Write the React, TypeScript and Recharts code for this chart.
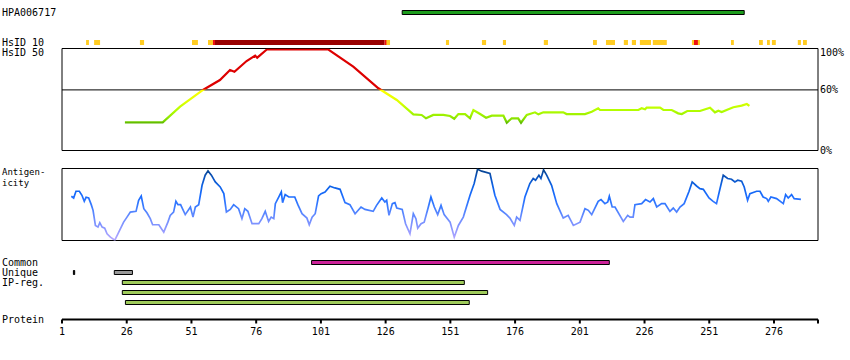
import React from 'react';
import { ComposedChart, Line, XAxis, YAxis, ReferenceArea, ReferenceLine } from 'recharts';

const W = 850;
const H = 360;
const FONT = '"DejaVu Sans Mono", monospace';
const X_DOMAIN: [number, number] = [1, 293];
const PLOT_LEFT = 62;
const PLOT_RIGHT = 32;

// ---- data ----
const AXIS_TICKS = [1, 26, 51, 76, 101, 126, 151, 176, 201, 226, 251, 276, 293];
const PROTEIN_END = 293;
const PCT_TICKS = [0, 60, 100];

const antibodyName = 'HPA006717';
const antibodyFragment: [number, number] = [132.4, 264.5];

const hsid10Yellow: [number, number][] = [
  [10.3, 11.4], [13.4, 15.7], [31.1, 32.7], [51.2, 53.5], [57.4, 59.3], [126.1, 127.7],
  [149.3, 150.5], [163.2, 164.8], [171.3, 172.5], [187.1, 188.7], [206.1, 207.6],
  [211.1, 214.6], [218.0, 219.6], [221.1, 222.7], [224.2, 228.5], [229.2, 234.6],
  [244.3, 247.4], [259.4, 260.5], [270.2, 271.7], [273.3, 274.4], [275.2, 276.7],
  [285.2, 286.4], [287.2, 288.7],
];
const hsid10Red: [number, number][] = [[59.3, 60.1], [125.6, 126.3], [245.1, 246.6]];
const hsid10DarkRed: [number, number][] = [[60.1, 125.6]];

const hsid50Pos = [
  25.3, 39.9, 46.6, 55.6, 62.0, 65.9, 67.6, 72.3, 75.6, 76.4, 80.1, 103.9, 113.5, 123.2,
  130.3, 136.7, 139.9, 141.6, 144.4, 148.3, 150.9, 152.5, 154.1, 156.7, 158.6, 159.9,
  162.5, 164.8, 167.0, 171.5, 172.8, 174.7, 177.2, 178.3, 180.5, 183.7, 185.0, 186.9,
  194.6, 195.9, 203.0, 205.6, 208.1, 208.8, 223.6, 224.9, 226.2, 226.8, 232.0, 233.3,
  236.5, 239.0, 240.4, 242.5, 247.4, 251.3, 253.2, 254.5, 255.8, 258.4, 260.3, 263.5,
  265.5, 266.5,
];
const hsid50Val = [
  27.9, 27.9, 43.4, 60.2, 69.8, 79.7, 78.0, 88.6, 93.9, 91.9, 100, 100, 83.0, 61.6,
  50.0, 35.8, 35.2, 31.9, 35.2, 35.2, 34.2, 31.5, 36.1, 36.1, 31.9, 40.1,
  36.1, 32.5, 34.5, 34.5, 27.5, 31.9, 31.9, 27.5, 35.2, 37.8, 35.8, 37.8,
  37.8, 36.1, 36.1, 38.4, 41.8, 40.1, 40.1, 41.8, 40.8, 42.4, 42.4, 40.1,
  40.1, 36.8, 36.1, 39.1, 39.1, 42.4, 37.8, 39.4, 38.1, 40.8, 42.8, 44.4,
  46.0, 44.1,
];

const antigenPos = [
  4.6, 5.5, 6.4, 7.7, 8.7, 9.6, 10.3, 11.3, 12.3, 13.0, 13.9, 14.9, 15.6, 16.5, 17.5, 18.4,
  19.7, 21.4, 22.6, 24.8, 26.1, 27.4, 29.6, 30.6, 31.6, 32.6, 33.8, 35.1, 36.0, 38.4, 40.3,
  41.9, 42.8, 44.1, 45.0, 45.8, 46.8, 48.6, 50.6, 51.6, 52.5, 53.8, 55.1, 56.3, 57.4, 58.7,
  60.2, 62.1, 63.5, 64.5, 66.0, 67.3, 69.2, 70.5, 71.6, 72.8, 74.4, 77.0, 78.2, 79.5, 80.8,
  81.8, 82.8, 83.4, 84.7, 85.7, 86.2, 87.2, 88.6, 90.9, 92.1, 93.7, 95.6, 96.5, 97.6, 98.8,
  100.1, 101.1, 102.6, 104.5, 106.4, 108.4, 110.3, 112.2, 114.2, 116.5, 118.0, 121.2, 122.5,
  124.5, 125.7, 126.4, 127.3, 128.6, 129.6, 130.3, 132.4, 133.7, 135.4, 136.7, 137.7, 138.4,
  139.7, 140.9, 142.5, 143.5, 144.8, 146.1, 147.4, 148.6, 150.9, 152.5, 154.1, 156.0, 158.6,
  160.2, 161.5, 163.1, 166.3, 168.2, 170.2, 172.7, 174.0, 175.7, 176.6, 177.9, 179.8, 181.7,
  183.0, 183.9, 185.2, 186.0, 187.0, 188.2, 190.1, 192.1, 194.6, 196.5, 198.5, 201.1, 203.0,
  204.3, 205.6, 208.1, 209.2, 210.7, 211.8, 212.4, 213.5, 214.6, 217.8, 219.5, 220.4, 221.6,
  222.3, 224.9, 226.4, 228.1, 229.4, 230.7, 232.6, 233.9, 235.8, 237.1, 238.4, 239.7, 241.3,
  243.2, 244.4, 246.1, 247.4, 248.7, 250.9, 252.5, 253.8, 255.1, 256.4, 258.1, 259.6, 260.9,
  262.0, 263.5, 264.5, 265.8, 266.7, 269.3, 270.6, 271.8, 273.2, 273.8, 274.8, 277.0, 279.6,
  280.5, 281.5, 282.8, 283.8, 286.4,
];
const antigenVal = [
  61.4, 59.0, 68.4, 68.4, 62.8, 54.4, 60.0, 59.0, 49.8, 41.9, 20.9, 18.6, 24.7, 18.6, 17.2, 9.3,
  4.6, 0.4, 9.3, 25.5, 32.5, 39.5, 40.5, 55.8, 61.8, 44.2, 38.6, 30.3, 21.9, 21.9, 11.6,
  25.5, 34.9, 39.5, 54.4, 49.8, 49.8, 35.9, 46.5, 32.5, 46.5, 49.8, 76.7, 90.7, 96.7, 90.7,
  81.3, 74.4, 65.1, 39.5, 43.2, 49.8, 44.2, 30.3, 44.2, 40.5, 23.3, 23.3, 30.3, 40.5, 26.5,
  32.5, 30.3, 51.2, 60.4, 67.4, 52.6, 63.8, 60.4, 60.4, 49.8, 37.2, 31.1, 21.9, 32.5, 37.2,
  62.0, 65.1, 67.4, 75.3, 73.0, 71.1, 52.6, 49.8, 37.2, 46.5, 43.2, 40.5, 48.8,
  59.0, 53.4, 55.8, 34.9, 51.2, 52.6, 45.1, 43.2, 23.3, 9.3, 37.2, 30.3, 17.2,
  23.3, 25.5, 46.5, 60.4, 46.5, 35.9, 48.8, 35.9, 25.5, 4.6, 20.9, 32.5, 62.8,
  79.1, 99.0, 96.3, 93.0, 62.8, 43.2, 35.9, 31.1, 20.9, 32.5, 27.9, 60.4, 79.1,
  86.1, 83.7, 90.7, 86.1, 98.1, 90.7, 76.7, 51.2, 31.1, 34.9, 20.9, 25.5, 44.2,
  41.9, 35.9, 54.4, 56.8, 51.2, 53.4, 61.4, 46.5, 46.5, 26.5, 34.9, 32.5, 32.5,
  49.8, 51.2, 56.8, 53.4, 58.2, 46.5, 51.2, 51.2, 40.5, 45.1, 39.5, 46.5, 51.2,
  68.4, 81.3, 75.7, 72.1, 71.1, 59.0, 54.4, 51.2, 71.1, 90.7, 86.1, 85.1, 81.3,
  83.7, 82.3, 74.4, 55.8, 65.1, 68.4, 68.4, 60.4, 58.2, 54.4, 60.4, 58.2, 51.2,
  63.8, 59.0, 63.8, 58.2, 57.2,
];

const commonRegions: [number, number][] = [[97.4, 212.4]];
const uniqueMarks: [number, number][] = [[5.4, 5.9]];
const uniqueRegions: [number, number][] = [[21.2, 28.2]];
const ipRegions: [number, number][] = [[24.3, 156.4], [24.3, 165.4], [25.5, 158.3]];

const hsid50Data = hsid50Pos.map((r, i) => ({ r, v: hsid50Val[i] }));
const antigenData = antigenPos.map((r, i) => ({ r, v: antigenVal[i] }));

// ---- colour scales (value -> colour) ----
type Stop = [number, string];
const HS_STOPS: Stop[] = [
  [100, '#dd0000'], [60.6, '#dd0000'], [60, '#ffff00'], [48, '#ddff00'], [40, '#b4ff00'],
  [34, '#99ee00'], [29, '#77d400'], [27, '#5fb800'],
];
const AG_STOPS: Stop[] = [
  [100, '#07428a'], [90, '#0a50b4'], [76, '#0e62e6'], [62, '#1a6cff'], [47, '#3c7cff'],
  [32, '#6a8cff'], [16, '#8e98ff'], [0, '#b6a8ff'],
];

function gradientStops(values: number[], stops: Stop[]) {
  const max = Math.max(...values);
  const min = Math.min(...values);
  return stops.map(([v, c], i) => {
    const o = Math.min(1, Math.max(0, (max - v) / (max - min)));
    return <stop key={i} offset={o} stopColor={c} />;
  });
}

const layer: React.CSSProperties = { position: 'absolute', left: 0, top: 0 };

function Track({ top, height, children }: { top: number; height: number; children: React.ReactNode }) {
  return (
    <div style={layer}>
      <ComposedChart
        width={W}
        height={H}
        data={[]}
        margin={{ top, bottom: H - top - height, left: PLOT_LEFT, right: PLOT_RIGHT }}
      >
        <XAxis type="number" dataKey="r" domain={X_DOMAIN} hide allowDataOverflow />
        <YAxis type="number" domain={[0, 1]} hide allowDataOverflow />
        {children}
      </ComposedChart>
    </div>
  );
}

function areas(segs: [number, number][], fill: string, stroke?: string) {
  return segs.map(([a, b], i) => (
    <ReferenceArea
      key={fill + i}
      x1={a}
      x2={b}
      y1={0}
      y2={1}
      fill={fill}
      fillOpacity={1}
      stroke={stroke || 'none'}
      strokeWidth={1}
      ifOverflow="visible"
    />
  ));
}

const PercentTick = (props: any) => {
  const { x, y, payload } = props;
  const isTop = payload.value === PCT_TICKS[PCT_TICKS.length - 1];
  return (
    <text x={x} y={y + (isTop ? 6 : 3.5)} fontFamily={FONT} fontSize={10} fill="#000" textAnchor="start">
      {payload.value}%
    </text>
  );
};

const labels: { text: string; y: number; size: number }[] = [
  { text: antibodyName, y: 16, size: 10 },
  { text: 'HsID 10', y: 45.5, size: 10 },
  { text: 'HsID 50', y: 55.5, size: 10 },
  { text: 'Antigen-', y: 175, size: 9 },
  { text: 'icity', y: 185.5, size: 9 },
  { text: 'Common', y: 266, size: 10 },
  { text: 'Unique', y: 276, size: 10 },
  { text: 'IP-reg.', y: 286, size: 10 },
  { text: 'Protein', y: 323, size: 10 },
];

export default function App() {
  return (
    <div style={{ position: 'absolute', left: 0, top: 0, width: W, height: H, background: '#fff', overflow: 'hidden' }}>
      {/* antibody fragment */}
      <Track top={10.5} height={4}>{areas([antibodyFragment], '#1c9c1c', '#000')}</Track>

      {/* HsID 10 */}
      <Track top={40} height={5}>
        {areas(hsid10Yellow, '#ffcc22')}
        {areas(hsid10DarkRed, '#990000')}
        {areas(hsid10Red, '#ee1111')}
      </Track>

      {/* HsID 50 */}
      <div style={layer}>
        <ComposedChart
          width={W}
          height={H}
          data={hsid50Data}
          margin={{ top: 48.5, bottom: H - 150.5, left: PLOT_LEFT, right: 0 }}
        >
          <defs>
            <linearGradient id="hsGrad" x1="0" y1="0" x2="0" y2="1">
              {gradientStops(hsid50Val, HS_STOPS)}
            </linearGradient>
          </defs>
          <XAxis type="number" dataKey="r" domain={X_DOMAIN} hide allowDataOverflow />
          <YAxis
            type="number"
            orientation="right"
            width={PLOT_RIGHT}
            domain={[0, 101]}
            ticks={PCT_TICKS}
            interval={0}
            axisLine={false}
            tickLine={false}
            tickSize={0}
            tickMargin={2}
            tick={<PercentTick />}
            allowDataOverflow
          />
          <ReferenceArea x1={X_DOMAIN[0]} x2={X_DOMAIN[1]} y1={0} y2={101} fill="none" stroke="#000" strokeWidth={1} ifOverflow="visible" />
          <ReferenceLine y={60} stroke="#000" strokeWidth={1} />
          <Line
            type="linear"
            dataKey="v"
            stroke="url(#hsGrad)"
            strokeWidth={2.2}
            dot={false}
            isAnimationActive={false}
          />
        </ComposedChart>
      </div>

      {/* Antigenicity */}
      <div style={layer}>
        <ComposedChart
          width={W}
          height={H}
          data={antigenData}
          margin={{ top: 168.5, bottom: H - 240.5, left: PLOT_LEFT, right: PLOT_RIGHT }}
        >
          <defs>
            <linearGradient id="agGrad" x1="0" y1="0" x2="0" y2="1">
              {gradientStops(antigenVal, AG_STOPS)}
            </linearGradient>
          </defs>
          <XAxis type="number" dataKey="r" domain={X_DOMAIN} hide allowDataOverflow />
          <YAxis type="number" domain={[0, 100]} hide allowDataOverflow />
          <ReferenceArea x1={X_DOMAIN[0]} x2={X_DOMAIN[1]} y1={0} y2={100} fill="none" stroke="#000" strokeWidth={1} ifOverflow="visible" />
          <Line
            type="linear"
            dataKey="v"
            stroke="url(#agGrad)"
            strokeWidth={1.7}
            dot={false}
            isAnimationActive={false}
          />
        </ComposedChart>
      </div>

      {/* feature tracks */}
      <Track top={260.5} height={4}>{areas(commonRegions, '#cc2299', '#000')}</Track>
      <Track top={270.5} height={4}>
        {areas(uniqueMarks, '#000', '#000')}
        {areas(uniqueRegions, '#999999', '#000')}
      </Track>
      {ipRegions.map((seg, i) => (
        <Track key={i} top={280.5 + i * 10} height={4}>{areas([seg], '#9fcb5b', '#000')}</Track>
      ))}

      {/* protein axis */}
      <div style={layer}>
        <ComposedChart width={W} height={H} data={[]} margin={{ top: 300, bottom: 20.5, left: PLOT_LEFT, right: PLOT_RIGHT }}>
          <XAxis
            type="number"
            dataKey="r"
            domain={X_DOMAIN}
            ticks={AXIS_TICKS}
            interval={0}
            height={20}
            allowDataOverflow
            axisLine={{ stroke: '#000', strokeWidth: 2 }}
            tickLine={{ stroke: '#000', strokeWidth: 2 }}
            tickSize={4}
            tickMargin={4}
            tick={{ fontFamily: FONT, fontSize: 10, fill: '#000' }}
            tickFormatter={(v: number) => (v === PROTEIN_END ? '' : String(v))}
          />
          <YAxis type="number" domain={[0, 1]} hide />
        </ComposedChart>
      </div>

      {/* track labels */}
      <svg width={W} height={H} style={layer}>
        {labels.map((l) => (
          <text key={l.text} x={2} y={l.y} fontFamily={FONT} fontSize={l.size} fill="#000">
            {l.text}
          </text>
        ))}
      </svg>
    </div>
  );
}
